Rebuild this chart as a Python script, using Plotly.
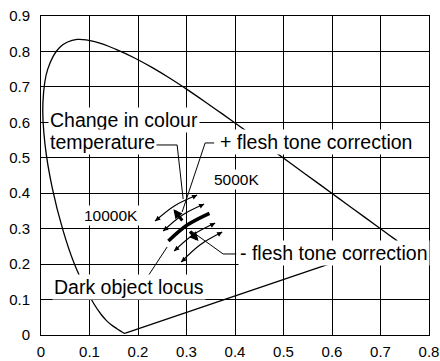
import plotly.graph_objects as go

# CIE 1931 spectral locus (chromaticity x, y), 380 nm .. 700 nm
locus_x = [0.1741, 0.1733, 0.1714, 0.1689, 0.1644, 0.1566, 0.1440, 0.1355, 0.1241,
           0.1096, 0.0913, 0.0687, 0.0454, 0.0235, 0.0082, 0.0039, 0.0139, 0.0389,
           0.0743, 0.1142, 0.1547, 0.1929, 0.2296, 0.2658, 0.3016, 0.3373, 0.3731,
           0.4087, 0.4441, 0.4788, 0.5125, 0.5448, 0.5752, 0.6029, 0.6270, 0.6658,
           0.6915, 0.7079, 0.7190, 0.7260, 0.7300, 0.7334, 0.7347]
locus_y = [0.0050, 0.0048, 0.0051, 0.0069, 0.0109, 0.0177, 0.0297, 0.0399, 0.0578,
           0.0868, 0.1327, 0.2007, 0.2950, 0.4127, 0.5384, 0.6548, 0.7502, 0.8120,
           0.8338, 0.8262, 0.8059, 0.7816, 0.7543, 0.7243, 0.6923, 0.6589, 0.6245,
           0.5896, 0.5547, 0.5202, 0.4866, 0.4544, 0.4242, 0.3965, 0.3725, 0.3340,
           0.3083, 0.2920, 0.2809, 0.2740, 0.2700, 0.2666, 0.2653]

# Dark object locus (10000K -> 5000K): start, middle, end
dark_x = [0.2627, 0.3021, 0.3474]
dark_y = [0.2652, 0.3108, 0.3434]

# Colour-temperature shift arrows (double headed): start, middle, end
arrow_start_x = [0.2353, 0.2518, 0.2745, 0.2890]
arrow_start_y = [0.3217, 0.2935, 0.2370, 0.2060]
arrow_mid_x = [0.2757, 0.2911, 0.3138, 0.3283]
arrow_mid_y = [0.3649, 0.3381, 0.2830, 0.2548]
arrow_end_x = [0.3220, 0.3364, 0.3591, 0.3736]
arrow_end_y = [0.3950, 0.3696, 0.3160, 0.2906]

# Flesh tone correction direction arrows: tail -> head
flesh_tail_x = [0.2937, 0.3044]
flesh_tail_y = [0.3188, 0.2963]
flesh_head_x = [0.2731, 0.3247]
flesh_head_y = [0.3547, 0.2652]

# Leader lines from the labels
leader_temp_x = [0.2353, 0.2807, 0.2931]
leader_temp_y = [0.5361, 0.5361, 0.3837]
leader_plus_x = [0.3570, 0.3385, 0.2910]
leader_plus_y = [0.5418, 0.5418, 0.3470]
leader_minus_x = [0.4025, 0.3756, 0.3096]
leader_minus_y = [0.2286, 0.2286, 0.2935]
leader_dark_x = [0.2167, 0.2601]
leader_dark_y = [0.1580, 0.2483]

# Text labels
label_text = ["Change in colour", "temperature", "+ flesh tone correction",
              "5000K", "10000K", "- flesh tone correction", "Dark object locus"]
label_x = [0.0140, 0.0140, 0.5665, 0.4040, 0.1440, 0.6037, 0.1820]
label_y = [0.6070, 0.5450, 0.5446, 0.4400, 0.3360, 0.2314, 0.1354]
label_anchor = ["left", "left", "center", "center", "center", "center", "center"]
label_size = [19.5, 19.5, 19.5, 15.5, 15.5, 19.5, 19.5]

FONT = "Liberation Sans, Arial, Helvetica, sans-serif"

fig = go.Figure()


def line_trace(xs, ys, width=1.0, shape="linear"):
    fig.add_trace(go.Scatter(
        x=xs, y=ys, mode="lines",
        line=dict(color="black", width=width, shape=shape, smoothing=1.0),
        hoverinfo="skip", showlegend=False))


# spectral locus, then the straight purple line closing it
line_trace(locus_x, locus_y, 1.3, "spline")
line_trace([locus_x[0], locus_x[-1]], [locus_y[0], locus_y[-1]], 1.3)

# dark object locus (thick)
line_trace(dark_x, dark_y, 3.6, "spline")

annotations = []


def head(hx, hy, fromx, fromy, width=1.2, size=0.85, style=2):
    # short arrow segment ending at (hx, hy), pointing away from (fromx, fromy)
    t = 0.2
    annotations.append(dict(
        x=hx, y=hy, ax=hx + t * (fromx - hx), ay=hy + t * (fromy - hy),
        xref="x", yref="y", axref="x", ayref="y", text="", showarrow=True,
        arrowhead=style, arrowsize=size, arrowwidth=width, arrowcolor="black"))


for i in range(len(arrow_start_x)):
    line_trace([arrow_start_x[i], arrow_mid_x[i], arrow_end_x[i]],
               [arrow_start_y[i], arrow_mid_y[i], arrow_end_y[i]], 1.2, "spline")
    head(arrow_end_x[i], arrow_end_y[i], arrow_mid_x[i], arrow_mid_y[i])
    head(arrow_start_x[i], arrow_start_y[i], arrow_mid_x[i], arrow_mid_y[i])

for i in range(len(flesh_tail_x)):
    annotations.append(dict(
        x=flesh_head_x[i], y=flesh_head_y[i], ax=flesh_tail_x[i], ay=flesh_tail_y[i],
        xref="x", yref="y", axref="x", ayref="y", text="", showarrow=True,
        arrowhead=2, arrowsize=0.6, arrowwidth=3, arrowcolor="black"))

for xs, ys in [(leader_temp_x, leader_temp_y), (leader_plus_x, leader_plus_y),
               (leader_minus_x, leader_minus_y), (leader_dark_x, leader_dark_y)]:
    line_trace(xs, ys, 1.0)

for t, x, y, a, s in zip(label_text, label_x, label_y, label_anchor, label_size):
    annotations.append(dict(
        x=x, y=y, xref="x", yref="y", text=t, showarrow=False,
        xanchor=a, yanchor="middle", bgcolor="white", borderpad=1,
        font=dict(family=FONT, size=s, color="black")))

axis_common = dict(
    showgrid=True, gridcolor="black", gridwidth=1, zeroline=False,
    showline=True, linecolor="black", linewidth=1, mirror=True, automargin=False,
    ticks="", dtick=0.1, tick0=0, tickfont=dict(family=FONT, size=15, color="black"))

fig.update_layout(
    width=440, height=361,
    margin=dict(l=41, r=11, t=16, b=26),
    paper_bgcolor="white", plot_bgcolor="white",
    showlegend=False,
    xaxis=dict(range=[0, 0.8], ticklabelstandoff=3, **axis_common),
    yaxis=dict(range=[0, 0.9], ticklabelstandoff=7, **axis_common),
    annotations=annotations)

fig.write_html("out.html")
